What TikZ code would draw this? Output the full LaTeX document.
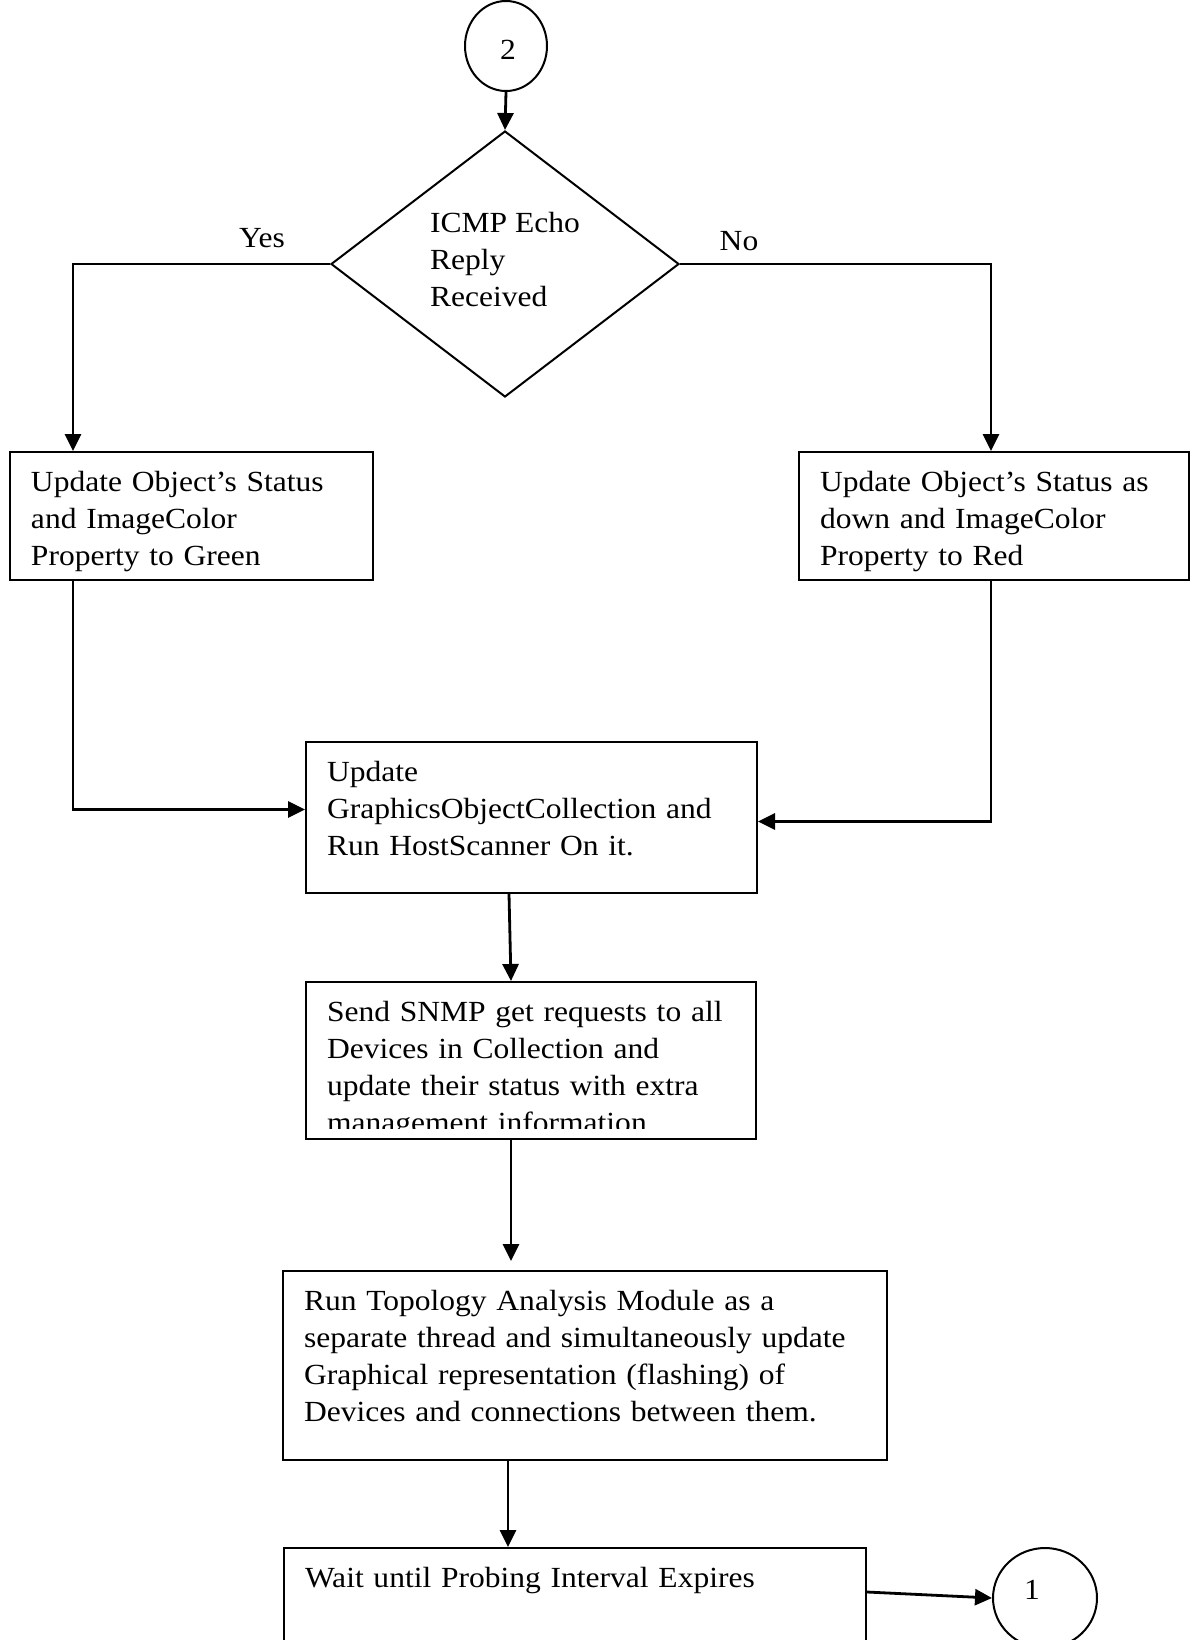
\documentclass[tikz,border=0pt]{standalone}
\usepackage{fontspec}
\setmainfont{Liberation Serif}[FakeStretch=1.08]
\usetikzlibrary{shapes.geometric,arrows.meta,calc}

\tikzset{
  box/.style={draw, line width=1pt, anchor=north west, align=left, inner xsep=10.5pt, inner ysep=0pt, text height=19.75pt},
  conn/.style={draw, ellipse, line width=1pt, inner sep=0pt},
  arr/.style={-{Triangle[length=8.5pt,width=8pt]}, line width=1.4pt}
}

\begin{document}
\begin{tikzpicture}[x=0.5pt, y=-0.5pt, font=\fontsize{14.6pt}{18.5pt}\selectfont]
            \useasboundingbox (0,0) rectangle (1194,1640);
            \clip (0,0) rectangle (1194,1640);

            \node[conn, minimum width=41pt, minimum height=45pt, label={[xshift=1pt, yshift=-2pt]center:2}] (c2) at (506,46) {};
            \node[draw, diamond, line width=1pt, inner sep=0pt, minimum width=174pt, minimum height=133pt,
                  label={[align=left, yshift=2.25pt]center:{ICMP Echo\\Reply\\Received}}] (dec) at (505,264) {};
            \node[anchor=base] (yes) at (262,247) {Yes};
            \node[anchor=base] (no) at (739,250) {No};

            \node[box, text width=160.5pt, text depth=44.25pt] (green) at (9,451) {Update Object’s Status\\and ImageColor\\Property to Green};
            \node[box, text width=174pt, text depth=44.25pt] (red) at (798,451) {Update Object’s Status as\\down and ImageColor\\Property to Red};
            \node[box, text width=204.5pt, text depth=55.75pt] (upd) at (305,741) {Update\\GraphicsObjectCollection and\\Run HostScanner On it.};

            \node[box, text width=204pt, text depth=58.75pt] (snmp) at (305,981) {};
            \begin{scope}
                \clip (305,981) rectangle (755,1128);
                \node[box, draw=none, text width=204pt] (snmptxt) at (snmp.north west) {Send SNMP get requests to all\\Devices in Collection and\\update their status with extra\\management information};
            \end{scope}

            \node[box, text width=281pt, text depth=74.75pt] (topo) at (282,1270) {Run Topology Analysis Module as a\\separate thread and simultaneously update\\Graphical representation (flashing) of\\Devices and connections between them.};
            \node[box, text width=270pt, text depth=60.25pt] (wait) at (283,1547) {Wait until Probing Interval Expires};
            \node[conn, minimum width=52pt, minimum height=50pt, label={[xshift=-6.5pt, yshift=4pt]center:1}] (c1) at (1045,1598) {};

            \draw[arr] (c2.south) -- (dec.north);
            \draw[arr] (dec.west) -| ([xshift=32pt]green.north west);
            \draw[arr] (dec.east) -| ([xshift=96.5pt]red.north west);
            \draw[arr] ([xshift=32pt]green.south west) |- ([yshift=4pt]upd.west);
            \draw[arr] ([xshift=96.5pt]red.south west) |- ([yshift=-2pt]upd.east);
            \draw[arr] ([xshift=-11.25pt]upd.south) -- ([xshift=-10pt]snmp.north);
            \draw[arr] ([xshift=-10pt]snmp.south) -- ($(snmp.south |- topo.north)+(-10pt,4.5pt)$);
            \draw[arr] ([xshift=-38.5pt]topo.south) -- ($(topo.south |- wait.north)+(-38.5pt,0)$);
            \draw[arr] ($(wait.north east)+(0,-22.5pt)$) -- (c1.west);
\end{tikzpicture}
\end{document}
